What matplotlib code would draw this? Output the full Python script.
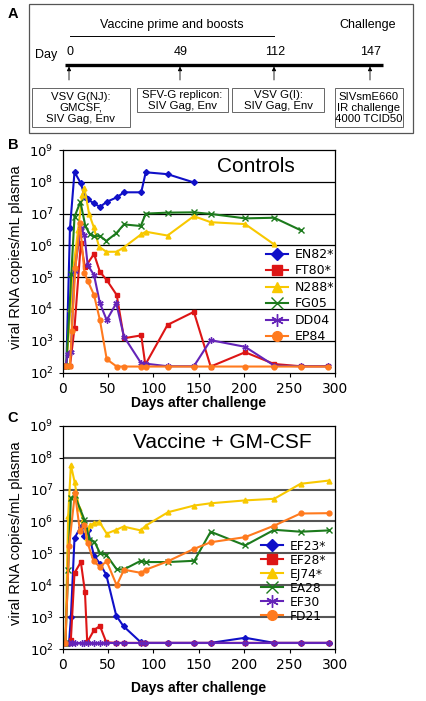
import matplotlib
matplotlib.use('Agg')
import matplotlib.pyplot as plt
from matplotlib.patches import Rectangle
import numpy as np

# ---- Panel A: schedule ----
sched_days = ['0', '49', '112', '147']
sched_x = [69, 180, 274, 370]
box_texts = ['VSV G(NJ):\nGMCSF,\nSIV Gag, Env',
             'SFV-G replicon:\nSIV Gag, Env',
             'VSV G(I):\nSIV Gag, Env',
             'SIVsmE660\nIR challenge\n4000 TCID50']
box_x0 = [32, 137, 232, 335]
box_x1 = [130, 228, 324, 403]
box_y1 = [127, 112, 112, 127]

# ---- Panel B: controls (log10 copies/mL) ----
en82_d = [4, 8, 13, 20, 24.5, 27.5, 34, 41, 48.5, 59.5, 67.5, 86.5, 91.5, 115.5, 144.5]
en82_v = [2.2, 6.54, 8.31, 7.95, 7.52, 7.45, 7.33, 7.21, 7.37, 7.51, 7.67, 7.67, 8.3, 8.24, 7.98]
ft80_d = [1, 4, 8, 13, 20, 24.5, 34.5, 41, 48.5, 59.5, 67.5, 86.5, 91, 115.5, 144.5, 163, 201, 233, 262, 292.5]
ft80_v = [2.2, 2.2, 2.2, 3.41, 6.08, 5.31, 5.73, 5.17, 4.91, 4.44, 3.08, 3.17, 2.25, 3.5, 3.91, 2.19, 2.64, 2.27, 2.2, 2.2]
n288_d = [4, 8.5, 12, 17, 21.5, 24, 29, 34, 40, 48, 59.5, 67, 86.5, 91.5, 115.5, 144.5, 163, 201, 233]
n288_v = [2.2, 4.0, 5.35, 6.5, 7.58, 7.79, 7.0, 6.59, 5.96, 5.8, 5.8, 5.93, 6.35, 6.43, 6.31, 6.92, 6.73, 6.67, 6.03]
fg05_d = [4, 9.5, 13, 19.5, 25, 30, 34.5, 41, 48, 59, 67.5, 86, 91.5, 115.5, 144.5, 163, 201, 233, 262]
fg05_v = [2.2, 5.1, 6.9, 7.37, 6.6, 6.35, 6.28, 6.3, 6.14, 6.38, 6.66, 6.61, 7.0, 7.03, 7.04, 6.99, 6.85, 6.87, 6.48]
dd04_d = [3, 6, 9, 13, 20, 24, 27.5, 34.5, 41, 48.5, 59, 67.5, 86.5, 91.5, 115.5, 144.5, 163, 201, 233, 262, 292.5]
dd04_v = [2.2, 2.6, 2.65, 5.2, 6.54, 6.33, 5.38, 5.07, 4.18, 3.65, 4.18, 3.13, 2.29, 2.28, 2.2, 2.2, 3.02, 2.81, 2.22, 2.2, 2.2]
ep84_d = [1, 4, 8, 10, 14, 19, 24, 27.5, 34.5, 41, 48.5, 59.5, 67.5, 86.5, 91.5, 115.5, 144.5, 163, 201, 233, 262, 292.5]
ep84_v = [2.2, 2.2, 2.2, 3.3, 5.3, 6.7, 5.12, 4.89, 4.44, 3.65, 2.42, 2.19, 2.19, 2.19, 2.19, 2.19, 2.19, 2.19, 2.19, 2.19, 2.19, 2.19]

# ---- Panel C: vaccine + GM-CSF (log10 copies/mL) ----
ef23_d = [0, 3, 7, 9, 13, 20, 24, 27.5, 34.5, 41, 48, 59, 67, 86, 91, 116, 145, 163, 201, 233, 262, 293]
ef23_v = [2.2, 2.2, 2.2, 3.0, 5.48, 5.84, 5.56, 5.74, 4.93, 4.68, 4.33, 3.05, 2.72, 2.22, 2.2, 2.2, 2.2, 2.2, 2.36, 2.2, 2.2, 2.2]
ef28_d = [0, 3, 7, 9, 13, 20, 24.5, 27, 34.5, 41, 48, 59, 67, 86, 91, 116, 145, 163, 201, 233, 262, 293]
ef28_v = [2.2, 2.2, 2.2, 2.3, 4.39, 4.73, 3.8, 2.22, 2.6, 2.73, 2.22, 2.2, 2.2, 2.2, 2.2, 2.2, 2.2, 2.2, 2.2, 2.2, 2.2, 2.2]
ej74_d = [0, 3, 6, 9, 13, 18, 22.5, 26.5, 30, 34.5, 40.5, 48.5, 59, 67, 86, 91.5, 116, 145, 163, 201, 233, 262, 293]
ej74_v = [2.2, 2.2, 6.16, 7.77, 7.25, 6.42, 6.05, 5.48, 5.88, 5.95, 5.98, 5.62, 5.74, 5.84, 5.72, 5.87, 6.29, 6.5, 6.57, 6.66, 6.71, 7.18, 7.28]
ea28_d = [0, 3, 6, 9, 13, 24, 29.5, 35, 41, 48, 59.5, 67.5, 86, 91.5, 116, 145, 163, 201, 233, 262, 293]
ea28_v = [2.2, 2.2, 4.47, 6.73, 6.83, 6.05, 5.43, 5.37, 5.01, 4.96, 4.5, 4.5, 4.77, 4.73, 4.73, 4.77, 5.68, 5.25, 5.74, 5.68, 5.72]
ef30_d = [0, 3, 7, 10, 14, 21, 24, 28, 35, 41, 48, 59, 67, 86, 91, 116, 145, 163, 201, 233, 262, 293]
ef30_v = [2.2] * 22
fd21_d = [0, 3, 7, 13.5, 19, 24, 27.5, 34, 41, 48.5, 59.5, 67.5, 86.5, 91.5, 115.5, 144.5, 163, 201, 233, 262, 293]
fd21_v = [2.2, 2.2, 5.22, 6.89, 5.69, 5.9, 5.33, 4.75, 4.59, 4.75, 4.0, 4.49, 4.39, 4.49, 4.75, 5.14, 5.35, 5.51, 5.87, 6.25, 6.26]

colors = ['#1010c8', '#dd1515', '#f8c800', '#1c7a1c', '#6424b8', '#ff7a1e']
markers = ['D', 's', '^', 'x', (6, 2, 0), 'o']
msizes = [3, 3.5, 3.5, 4, 4.5, 3.5]

fig = plt.figure(figsize=(4.26, 7.01), dpi=100)

# panel A drawn in pixel coordinates
axa = fig.add_axes([0, 0, 1, 1])
axa.set_xlim(0, 426)
axa.set_ylim(701, 0)
axa.axis('off')
sf = 'Liberation Sans'
axa.add_patch(Rectangle((29, 4), 384, 129, fill=False, ec='#555555', lw=0.9))
axa.text(13, 14, 'A', fontsize=10.5, fontweight='bold', family=sf, ha='center', va='center')
axa.text(13, 145, 'B', fontsize=10.5, fontweight='bold', family=sf, ha='center', va='center')
axa.text(13, 418, 'C', fontsize=10.5, fontweight='bold', family=sf, ha='center', va='center')
axa.text(172, 25, 'Vaccine prime and boosts', fontsize=9, family=sf, ha='center', va='center')
axa.text(368, 25, 'Challenge', fontsize=9, family=sf, ha='center', va='center')
axa.plot([70, 274], [36, 36], color='black', lw=0.7)
axa.text(35, 55, 'Day', fontsize=9, family=sf, ha='left', va='center')
axa.plot([65, 383], [65, 65], color='black', lw=2.4, solid_capstyle='butt')
for lab, xx in zip(sched_days, sched_x):
    axa.text(xx + 1, 52, lab, fontsize=9, family=sf, ha='center', va='center')
    axa.annotate('', xy=(xx, 66.5), xytext=(xx, 80),
                 arrowprops=dict(arrowstyle='-|>', color='black', lw=0.6,
                                 mutation_scale=6, shrinkA=0, shrinkB=0))
for t, x0, x1, y1 in zip(box_texts, box_x0, box_x1, box_y1):
    axa.add_patch(Rectangle((x0, 88), x1 - x0, y1 - 88, fill=False, ec='#666666', lw=0.7))
    axa.text((x0 + x1) / 2, (88 + y1) / 2 + 0.5, t, fontsize=8.2, family=sf,
             ha='center', va='center', linespacing=1.1)


def panel(rect, series, names, title, title_xy, leg_anchor, leg_fs, leg_sp, gcol, glw):
    ax = fig.add_axes(rect)
    for (d, v), n, c, m, ms in zip(series, names, colors, markers, msizes):
        ax.plot(d, 10 ** np.array(v), color=c, lw=1.5, marker=m, ms=ms,
                mec=c, mfc=c, mew=1.0, label=n)
    ax.set_yscale('log')
    ax.set_ylim(1e2, 1e9)
    ax.set_xlim(0, 300)
    ax.set_xticks([0, 50, 100, 150, 200, 250, 300])
    ax.set_yticks([10.0 ** k for k in range(2, 10)])
    ax.minorticks_off()
    for k in range(3, 9):
        ax.axhline(10.0 ** k, color=gcol, lw=glw, zorder=0)
    ax.tick_params(axis='both', direction='out', length=3, width=0.8)
    ax.tick_params(axis='x', labelsize=10)
    ax.tick_params(axis='y', labelsize=9.5)
    for s in ax.spines.values():
        s.set_linewidth(0.9)
    ax.set_xlabel('Days after challenge', fontsize=10, fontweight='bold', family=sf)
    ax.set_ylabel('viral RNA copies/mL plasma', fontsize=10.5, family=sf)
    ax.yaxis.set_label_coords(-0.145, 0.52)
    ax.text(title_xy[0], title_xy[1], title, transform=ax.transAxes, fontsize=15,
            family=sf, ha='center', va='center')
    ax.legend(loc='upper left', bbox_to_anchor=leg_anchor, frameon=False,
              fontsize=leg_fs, handlelength=1.8, handletextpad=0.5,
              labelspacing=leg_sp, borderpad=0, borderaxespad=0, markerscale=2.0)
    return ax


axb = panel([0.1472, 0.4685, 0.6392, 0.3175],
            [(en82_d, en82_v), (ft80_d, ft80_v), (n288_d, n288_v),
             (fg05_d, fg05_v), (dd04_d, dd04_v), (ep84_d, ep84_v)],
            ['EN82*', 'FT80*', 'N288*', 'FG05', 'DD04', 'EP84'],
            'Controls', (0.71, 0.925), (0.745, 0.56), 9, 0.28, 'black', 0.9)
axb.xaxis.labelpad = 0

axc = panel([0.1472, 0.0738, 0.6392, 0.319],
            [(ef23_d, ef23_v), (ef28_d, ef28_v), (ej74_d, ej74_v),
             (ea28_d, ea28_v), (ef30_d, ef30_v), (fd21_d, fd21_v)],
            ['EF23*', 'EF28*', 'EJ74*', 'EA28', 'EF30', 'FD21'],
            'Vaccine + GM-CSF', (0.585, 0.925), (0.73, 0.49), 8.8, 0.08, '#555555', 1.5)
axc.xaxis.labelpad = 6

fig.savefig('out.png', dpi=100)
